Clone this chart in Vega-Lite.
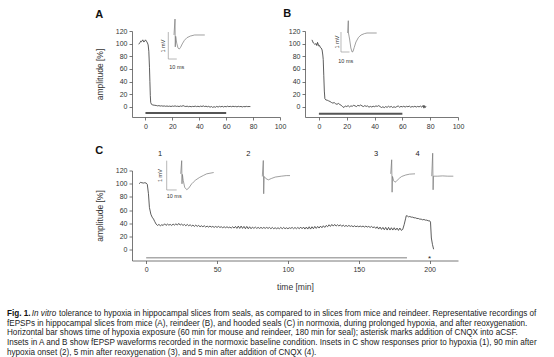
{
"$schema": "https://vega.github.io/schema/vega-lite/v6.json",
"background": "white",
"autosize": {"type": "pad"},
"padding": {"left": 7, "top": 8, "right": 4, "bottom": 1},
"config": {
  "font": "Liberation Sans",
  "view": {"stroke": null},
  "axis": {"grid": false, "labelOverlap": false, "labelSeparation": 0, "labelFlush": false, "labelBound": false, "labelFont": "Liberation Sans", "labelFontSize": 7, "labelColor": "#333", "domainColor": "#555", "tickColor": "#555", "tickSize": 3, "domainWidth": 0.8, "tickWidth": 0.8, "labelPadding": 2, "titleFont": "Liberation Sans", "titleFontSize": 8.5, "titleFontWeight": "normal", "titleColor": "#333"},
  "title": {"font": "Liberation Sans", "fontSize": 11, "fontWeight": "bold", "color": "#111", "anchor": "start", "frame": "bounds"}
},
"datasets": {
  "A": [{"t":-5,"v":99},{"t":-4,"v":102},{"t":-3.5,"v":104},{"t":-3,"v":103},{"t":-2,"v":106},{"t":-1.2,"v":102.5},{"t":-0.5,"v":104},{"t":0,"v":106},{"t":0.7,"v":104},{"t":1.5,"v":101},{"t":2,"v":98},{"t":2.5,"v":88},{"t":3,"v":62},{"t":3.3,"v":40},{"t":3.6,"v":18},{"t":3.9,"v":7},{"t":4.5,"v":4},{"t":5.5,"v":3},{"t":7,"v":2.5},{"t":8,"v":2.2},{"t":9,"v":1.6},{"t":10,"v":2.0},{"t":11,"v":1.3},{"t":12,"v":1.7},{"t":13,"v":1.1},{"t":14,"v":1.5},{"t":15,"v":0.9},{"t":16,"v":1.4},{"t":17,"v":0.8},{"t":18,"v":1.2},{"t":19,"v":0.6},{"t":20,"v":1.3},{"t":21,"v":0.9},{"t":22,"v":1.6},{"t":23,"v":0.8},{"t":24,"v":1.1},{"t":25,"v":0.5},{"t":26,"v":1.4},{"t":27,"v":0.9},{"t":28,"v":2.0},{"t":29,"v":1.0},{"t":30,"v":0.6},{"t":31,"v":1.1},{"t":32,"v":0.3},{"t":33,"v":0.9},{"t":34,"v":0.2},{"t":35,"v":0.8},{"t":36,"v":0.5},{"t":37,"v":1.2},{"t":38,"v":0.4},{"t":39,"v":1.0},{"t":40,"v":0.3},{"t":41,"v":1.2},{"t":42,"v":0.6},{"t":43,"v":1.5},{"t":44,"v":0.5},{"t":45,"v":1.1},{"t":46,"v":0.2},{"t":47,"v":0.9},{"t":48,"v":-0.5},{"t":49,"v":0.6},{"t":50,"v":-0.8},{"t":51,"v":0.3},{"t":52,"v":-0.6},{"t":53,"v":0.8},{"t":54,"v":-0.3},{"t":55,"v":0.9},{"t":56,"v":0.0},{"t":57,"v":1.0},{"t":58,"v":-0.2},{"t":59,"v":0.8},{"t":60,"v":0.1},{"t":61,"v":1.1},{"t":62,"v":0.3},{"t":63,"v":0.9},{"t":64,"v":0.2},{"t":65,"v":1.0},{"t":66,"v":0.4},{"t":67,"v":0.8},{"t":68,"v":0.0},{"t":69,"v":0.9},{"t":70,"v":0.3},{"t":71,"v":0.7},{"t":72,"v":-0.1},{"t":73,"v":0.6},{"t":74,"v":0.2},{"t":75,"v":0.8},{"t":76,"v":0.4},{"t":77,"v":0.6},{"t":78,"v":0.5}],
  "B": [{"t":-5,"v":106},{"t":-4,"v":101},{"t":-3,"v":99},{"t":-2,"v":100},{"t":-1.5,"v":97},{"t":-1,"v":102},{"t":0,"v":96},{"t":0.5,"v":97},{"t":1,"v":94},{"t":1.7,"v":93},{"t":2.3,"v":90},{"t":2.8,"v":82},{"t":3.1,"v":75},{"t":3.5,"v":50},{"t":3.9,"v":25},{"t":4.3,"v":13},{"t":5,"v":11},{"t":6,"v":10.5},{"t":7,"v":9.5},{"t":8,"v":8.5},{"t":9,"v":7},{"t":10,"v":6},{"t":11,"v":6.8},{"t":12,"v":5},{"t":13,"v":4},{"t":14,"v":5.5},{"t":15,"v":3.8},{"t":16,"v":2.5},{"t":17,"v":0.5},{"t":18,"v":-1},{"t":19,"v":1.5},{"t":20,"v":0.5},{"t":21,"v":2.0},{"t":22,"v":0},{"t":23,"v":1.5},{"t":24,"v":1.0},{"t":25,"v":2.5},{"t":26,"v":1.5},{"t":27,"v":0.5},{"t":28,"v":2.5},{"t":29,"v":1.5},{"t":30,"v":3},{"t":31,"v":1.5},{"t":32,"v":0.5},{"t":33,"v":2},{"t":34,"v":0.8},{"t":35,"v":1.5},{"t":36,"v":-0.5},{"t":37,"v":0.8},{"t":38,"v":-0.2},{"t":39,"v":1.0},{"t":40,"v":0.3},{"t":41,"v":1.5},{"t":42,"v":0.8},{"t":43,"v":2},{"t":44,"v":0.5},{"t":45,"v":-1},{"t":46,"v":0.2},{"t":47,"v":-1.2},{"t":48,"v":0.5},{"t":49,"v":-0.8},{"t":50,"v":1},{"t":51,"v":-0.5},{"t":52,"v":0.8},{"t":53,"v":-1},{"t":54,"v":0.2},{"t":55,"v":-0.8},{"t":56,"v":0.5},{"t":57,"v":1.5},{"t":58,"v":-0.5},{"t":59,"v":0.8},{"t":60,"v":0},{"t":61,"v":1},{"t":62,"v":-0.3},{"t":63,"v":0.9},{"t":64,"v":0.2},{"t":65,"v":1.2},{"t":66,"v":-0.5},{"t":67,"v":0.6},{"t":68,"v":0.0},{"t":69,"v":1.0},{"t":70,"v":-0.3},{"t":71,"v":0.8},{"t":72,"v":0.0},{"t":73,"v":1.2},{"t":74,"v":-0.5},{"t":75,"v":2.5},{"t":75.5,"v":-2},{"t":76,"v":2},{"t":76.5,"v":-1},{"t":77,"v":1}],
  "C": [{"t":-5,"v":100},{"t":-4,"v":102},{"t":-3,"v":101.5},{"t":-2,"v":101},{"t":-1,"v":101.5},{"t":0,"v":101},{"t":0.8,"v":99},{"t":1.6,"v":85},{"t":2.3,"v":64},{"t":3.3,"v":54},{"t":4.2,"v":49.5},{"t":5.2,"v":46.6},{"t":6,"v":43},{"t":7,"v":39},{"t":8,"v":37},{"t":9,"v":38.5},{"t":10,"v":36.5},{"t":11,"v":38},{"t":12,"v":37},{"t":13,"v":39.5},{"t":14,"v":37},{"t":15,"v":39},{"t":16,"v":37.5},{"t":17,"v":38.5},{"t":18,"v":37},{"t":19,"v":39},{"t":20,"v":37.5},{"t":21,"v":39.5},{"t":22,"v":37.5},{"t":23,"v":40},{"t":24,"v":37.5},{"t":25,"v":39},{"t":26,"v":37},{"t":27,"v":38.5},{"t":28,"v":36.5},{"t":29,"v":38.5},{"t":30,"v":36.5},{"t":31,"v":38},{"t":32,"v":36},{"t":33,"v":37.5},{"t":34,"v":35.5},{"t":35,"v":37.5},{"t":36,"v":35.5},{"t":37,"v":37},{"t":38,"v":35},{"t":39,"v":36.5},{"t":40,"v":35},{"t":41,"v":36.5},{"t":42,"v":34.5},{"t":43,"v":36},{"t":44,"v":34.5},{"t":45,"v":36},{"t":46,"v":34.5},{"t":47,"v":35.5},{"t":48,"v":34},{"t":49,"v":35.5},{"t":50,"v":34},{"t":51,"v":35.5},{"t":52,"v":34},{"t":53,"v":35},{"t":54,"v":33.5},{"t":55,"v":35},{"t":56,"v":33.5},{"t":57,"v":35},{"t":58,"v":33.5},{"t":59,"v":34.5},{"t":60,"v":33},{"t":61,"v":35},{"t":62,"v":33},{"t":63,"v":35.5},{"t":64,"v":32.5},{"t":65,"v":36},{"t":66,"v":32.5},{"t":67,"v":36},{"t":68,"v":32.5},{"t":69,"v":35.5},{"t":70,"v":32},{"t":71,"v":35.5},{"t":72,"v":32},{"t":73,"v":35},{"t":74,"v":32},{"t":75,"v":34.5},{"t":76,"v":32.5},{"t":77,"v":34.5},{"t":78,"v":32.5},{"t":79,"v":34},{"t":80,"v":32.5},{"t":81,"v":34},{"t":82,"v":32.5},{"t":83,"v":34},{"t":84,"v":32.5},{"t":85,"v":34},{"t":86,"v":32.5},{"t":87,"v":34},{"t":88,"v":32},{"t":89,"v":34},{"t":90,"v":32},{"t":91,"v":33.5},{"t":92,"v":32},{"t":93,"v":33.5},{"t":94,"v":32},{"t":95,"v":34},{"t":96,"v":32},{"t":97,"v":34},{"t":98,"v":32},{"t":99,"v":33.5},{"t":100,"v":32},{"t":101,"v":33.5},{"t":102,"v":32.5},{"t":103,"v":34},{"t":104,"v":32},{"t":105,"v":34},{"t":106,"v":32},{"t":107,"v":34},{"t":108,"v":32},{"t":109,"v":34.5},{"t":110,"v":32},{"t":111,"v":34.5},{"t":112,"v":31.5},{"t":113,"v":34.5},{"t":114,"v":31.5},{"t":115,"v":35},{"t":116,"v":31.5},{"t":117,"v":35},{"t":118,"v":32},{"t":119,"v":35.5},{"t":120,"v":32.5},{"t":121,"v":35.5},{"t":122,"v":33},{"t":123,"v":36},{"t":124,"v":33.5},{"t":125,"v":36.5},{"t":126,"v":34},{"t":127,"v":37},{"t":128,"v":35},{"t":129,"v":38},{"t":130,"v":35.5},{"t":131,"v":38.5},{"t":132,"v":36},{"t":133,"v":38.5},{"t":134,"v":36},{"t":135,"v":38},{"t":136,"v":36},{"t":137,"v":38},{"t":138,"v":35.5},{"t":139,"v":37.5},{"t":140,"v":35.5},{"t":141,"v":37},{"t":142,"v":35.5},{"t":143,"v":37},{"t":144,"v":35.5},{"t":145,"v":36.5},{"t":146,"v":35},{"t":147,"v":36.5},{"t":148,"v":35},{"t":149,"v":36},{"t":150,"v":35},{"t":151,"v":36},{"t":152,"v":35},{"t":153,"v":36},{"t":154,"v":34.5},{"t":155,"v":36},{"t":156,"v":34.5},{"t":157,"v":35.5},{"t":158,"v":34},{"t":159,"v":35.5},{"t":160,"v":33.5},{"t":161,"v":35},{"t":162,"v":32.5},{"t":163,"v":35},{"t":164,"v":31.5},{"t":165,"v":34.5},{"t":166,"v":31},{"t":167,"v":34},{"t":168,"v":30.5},{"t":169,"v":34},{"t":170,"v":30},{"t":171,"v":34},{"t":172,"v":30},{"t":173,"v":33.5},{"t":174,"v":30},{"t":175,"v":33.5},{"t":176,"v":30},{"t":177,"v":33},{"t":178,"v":29.5},{"t":179,"v":33},{"t":180,"v":29.5},{"t":181,"v":31},{"t":182,"v":38},{"t":183,"v":47},{"t":183.5,"v":51.7},{"t":184.5,"v":51},{"t":185,"v":50},{"t":186,"v":50.5},{"t":187,"v":49.5},{"t":188,"v":49.5},{"t":189,"v":48.5},{"t":190,"v":48.5},{"t":191,"v":47.5},{"t":192,"v":47.5},{"t":193,"v":46.5},{"t":194,"v":46.5},{"t":195,"v":45.5},{"t":196,"v":46},{"t":197,"v":45},{"t":198,"v":45},{"t":199,"v":44},{"t":200,"v":44},{"t":200.6,"v":42},{"t":201.2,"v":18},{"t":202,"v":8},{"t":202.8,"v":1}],
  "wA": [{"ms":-1.2,"mV":0},{"ms":0,"mV":0.59},{"ms":0.3,"mV":-0.44},{"ms":0.8,"mV":-0.05},{"ms":2,"mV":-0.3},{"ms":3.5,"mV":-0.48},{"ms":5,"mV":-0.52},{"ms":6.5,"mV":-0.46},{"ms":8.5,"mV":-0.33},{"ms":11,"mV":-0.2},{"ms":14,"mV":-0.1},{"ms":18,"mV":-0.04},{"ms":23,"mV":0},{"ms":35,"mV":0}],
  "wB": [{"ms":-0.8,"mV":0},{"ms":0,"mV":0.615},{"ms":0.2,"mV":0.0},{"ms":1.5,"mV":-0.3},{"ms":3,"mV":-0.75},{"ms":4.5,"mV":-0.95},{"ms":5.5,"mV":-0.93},{"ms":7,"mV":-0.72},{"ms":9,"mV":-0.45},{"ms":12,"mV":-0.22},{"ms":15,"mV":-0.1},{"ms":19,"mV":-0.03},{"ms":22,"mV":0},{"ms":33.4,"mV":0}],
  "w1": [{"ms":-1,"mV":0.04},{"ms":0,"mV":0.49},{"ms":0.3,"mV":-0.3},{"ms":0.7,"mV":0.02},{"ms":1.5,"mV":-0.18},{"ms":3,"mV":-0.42},{"ms":5,"mV":-0.5},{"ms":7,"mV":-0.45},{"ms":10,"mV":-0.3},{"ms":11.6,"mV":-0.245},{"ms":14,"mV":-0.17},{"ms":18,"mV":-0.08},{"ms":22,"mV":-0.01},{"ms":25,"mV":0.04},{"ms":32,"mV":0.085}],
  "w2": [{"ms":-1,"mV":-0.05},{"ms":0,"mV":0.495},{"ms":0.4,"mV":-0.64},{"ms":0.9,"mV":-0.05},{"ms":2.5,"mV":-0.12},{"ms":5,"mV":-0.165},{"ms":8,"mV":-0.12},{"ms":12,"mV":-0.07},{"ms":18,"mV":-0.04},{"ms":23,"mV":-0.02},{"ms":26.7,"mV":-0.02}],
  "w3": [{"ms":-1,"mV":0.04},{"ms":0,"mV":0.52},{"ms":0.4,"mV":-0.587},{"ms":0.8,"mV":-0.05},{"ms":2,"mV":-0.2},{"ms":3.3,"mV":-0.246},{"ms":5,"mV":-0.2},{"ms":8,"mV":-0.1},{"ms":10,"mV":-0.05},{"ms":14,"mV":0.0},{"ms":18,"mV":0.03},{"ms":23.3,"mV":0.04}],
  "w4": [{"ms":-1,"mV":-0.04},{"ms":0,"mV":0.744},{"ms":0.4,"mV":-0.505},{"ms":0.8,"mV":-0.04},{"ms":5,"mV":-0.04},{"ms":10,"mV":-0.03},{"ms":15,"mV":-0.04},{"ms":20.6,"mV":-0.04}],
  "sbA": [{"x1":-7.9,"x2":-7.9,"y1":0.11,"y2":-0.89},{"x1":-7.9,"x2":2.1,"y1":-0.89,"y2":-0.89}],
  "sbB": [{"x1":-8.6,"x2":-8.6,"y1":0.05,"y2":-0.95},{"x1":-8.6,"x2":1.4,"y1":-0.95,"y2":-0.95}],
  "sbC": [{"x1":-15,"x2":-15,"y1":0.49,"y2":-0.51},{"x1":-15,"x2":-5,"y1":-0.51,"y2":-0.51}],
  "caption": [
    {"line":2,"text":"fEPSPs in hippocampal slices from mice (A), reindeer (B), and hooded seals (C) in normoxia, during prolonged hypoxia, and after reoxygenation."},
    {"line":3,"text":"Horizontal bar shows time of hypoxia exposure (60 min for mouse and reindeer, 180 min for seal); asterisk marks addition of CNQX into aCSF."},
    {"line":4,"text":"Insets in A and B show fEPSP waveforms recorded in the normoxic baseline condition. Insets in C show responses prior to hypoxia (1), 90 min after"},
    {"line":5,"text":"hypoxia onset (2), 5 min after reoxygenation (3), and 5 min after addition of CNQX (4)."}
  ]
},
"spacing": 15.5,
"vconcat": [
 {
  "bounds": "flush",
  "spacing": 25,
  "hconcat": [
   {
    "title": {"text": "A", "offset": -2},
    "width": 148, "height": 86,
    "resolve": {"scale": {"x": "independent", "y": "independent"}},
    "layer": [
     {"layer": [
       {"data": {"name": "A"}, "mark": {"type": "line", "color": "#333", "strokeWidth": 0.8},
        "encoding": {
          "x": {"field": "t", "type": "quantitative", "scale": {"domain": [-10, 100], "nice": false, "zero": false}, "axis": {"tickCount": 6, "title": null, "labelOverlap": false}},
          "y": {"field": "v", "type": "quantitative", "scale": {"domain": [-16, 120], "nice": false, "zero": false}, "axis": {"tickCount": 7, "title": "amplitude [%]", "titlePadding": 11, "labelOverlap": false}}}},
       {"data": {"values": [{"start": 0, "end": 60}]}, "mark": {"type": "rule", "color": "#555", "strokeWidth": 2},
        "encoding": {"x": {"field": "start", "type": "quantitative"}, "x2": {"field": "end"}, "y": {"datum": -9.5, "type": "quantitative"}}}
     ]},
     {"layer": [
       {"data": {"name": "wA"}, "mark": {"type": "line", "color": "#777", "strokeWidth": 0.7},
        "encoding": {"x": {"field": "ms", "type": "quantitative", "scale": {"domain": [-50.6, 123.5], "nice": false, "zero": false}, "axis": null},
                     "y": {"field": "mV", "type": "quantitative", "scale": {"domain": [-3.037, 0.148], "nice": false, "zero": false}, "axis": null}}},
       {"data": {"name": "sbA"}, "mark": {"type": "rule", "color": "#999", "strokeWidth": 0.7},
        "encoding": {"x": {"field": "x1", "type": "quantitative"}, "x2": {"field": "x2"}, "y": {"field": "y1", "type": "quantitative"}, "y2": {"field": "y2"}}},
       {"data": {"values": [{"ms": -14.1, "mV": -0.41, "label": "1 mV"}]}, "mark": {"type": "text", "angle": 270, "fontSize": 5.5, "color": "#333", "baseline": "middle"},
        "encoding": {"x": {"field": "ms", "type": "quantitative"}, "y": {"field": "mV", "type": "quantitative"}, "text": {"field": "label"}}},
       {"data": {"values": [{"ms": 2, "mV": -1.19, "label": "10 ms"}]}, "mark": {"type": "text", "fontSize": 5.5, "color": "#333", "baseline": "middle"},
        "encoding": {"x": {"field": "ms", "type": "quantitative"}, "y": {"field": "mV", "type": "quantitative"}, "text": {"field": "label"}}}
     ]}
    ]
   },
   {
    "title": {"text": "B", "offset": 0, "dx": -5},
    "width": 153, "height": 86,
    "resolve": {"scale": {"x": "independent", "y": "independent"}},
    "layer": [
     {"layer": [
       {"data": {"name": "B"}, "mark": {"type": "line", "color": "#333", "strokeWidth": 0.8},
        "encoding": {
          "x": {"field": "t", "type": "quantitative", "scale": {"domain": [-10, 100], "nice": false, "zero": false}, "axis": {"tickCount": 6, "title": null, "labelOverlap": false}},
          "y": {"field": "v", "type": "quantitative", "scale": {"domain": [-16, 120], "nice": false, "zero": false}, "axis": {"tickCount": 7, "title": null, "labelOverlap": false}}}},
       {"data": {"values": [{"start": 0, "end": 60}]}, "mark": {"type": "rule", "color": "#555", "strokeWidth": 2},
        "encoding": {"x": {"field": "start", "type": "quantitative"}, "x2": {"field": "end"}, "y": {"datum": -11, "type": "quantitative"}}}
     ]},
     {"layer": [
       {"data": {"name": "wB"}, "mark": {"type": "line", "color": "#777", "strokeWidth": 0.7},
        "encoding": {"x": {"field": "ms", "type": "quantitative", "scale": {"domain": [-50.94, 129.06], "nice": false, "zero": false}, "axis": null},
                     "y": {"field": "mV", "type": "quantitative", "scale": {"domain": [-4.2, 0.1], "nice": false, "zero": false}, "axis": null}}},
       {"data": {"name": "sbB"}, "mark": {"type": "rule", "color": "#999", "strokeWidth": 0.7},
        "encoding": {"x": {"field": "x1", "type": "quantitative"}, "x2": {"field": "x2"}, "y": {"field": "y1", "type": "quantitative"}, "y2": {"field": "y2"}}},
       {"data": {"values": [{"ms": -13.6, "mV": -0.45, "label": "1 mV"}]}, "mark": {"type": "text", "angle": 270, "fontSize": 5.5, "color": "#333", "baseline": "middle"},
        "encoding": {"x": {"field": "ms", "type": "quantitative"}, "y": {"field": "mV", "type": "quantitative"}, "text": {"field": "label"}}},
       {"data": {"values": [{"ms": -3, "mV": -1.4, "label": "10 ms"}]}, "mark": {"type": "text", "fontSize": 5.5, "color": "#333", "baseline": "middle"},
        "encoding": {"x": {"field": "ms", "type": "quantitative"}, "y": {"field": "mV", "type": "quantitative"}, "text": {"field": "label"}}}
     ]}
    ]
   }
  ]
 },
 {
  "title": {"text": "C", "offset": -6},
  "width": 326, "height": 90,
  "resolve": {"scale": {"x": "independent", "y": "independent"}},
  "layer": [
   {"layer": [
     {"data": {"name": "C"}, "mark": {"type": "line", "color": "#333", "strokeWidth": 0.8},
      "encoding": {
        "x": {"field": "t", "type": "quantitative", "scale": {"domain": [-10, 220], "nice": false, "zero": false}, "axis": {"tickCount": 5, "title": "time [min]", "titlePadding": 10, "labelOverlap": false}},
        "y": {"field": "v", "type": "quantitative", "scale": {"domain": [-16, 120], "nice": false, "zero": false}, "axis": {"tickCount": 7, "title": "amplitude [%]", "titlePadding": 11, "labelOverlap": false}}}},
     {"data": {"values": [{"start": 0, "end": 184}]}, "mark": {"type": "rule", "color": "#aaa", "strokeWidth": 1.5},
      "encoding": {"x": {"field": "start", "type": "quantitative"}, "x2": {"field": "end"}, "y": {"datum": -12, "type": "quantitative"}}},
     {"data": {"values": [{"t": 200, "label": "*"}]}, "mark": {"type": "text", "fontSize": 8, "color": "#222", "baseline": "middle"},
      "encoding": {"x": {"field": "t", "type": "quantitative"}, "y": {"datum": -14, "type": "quantitative"}, "text": {"field": "label"}}}
   ]},
   {"layer": [
     {"data": {"name": "w1"}, "mark": {"type": "line", "color": "#777", "strokeWidth": 0.7},
      "encoding": {"x": {"field": "ms", "type": "quantitative", "scale": {"domain": [-49.7, 276.3], "nice": false, "zero": false}, "axis": null},
                   "y": {"field": "mV", "type": "quantitative", "scale": {"domain": [-2.918, 0.154], "nice": false, "zero": false}, "axis": null}}},
     {"data": {"name": "sbC"}, "mark": {"type": "rule", "color": "#999", "strokeWidth": 0.7},
      "encoding": {"x": {"field": "x1", "type": "quantitative"}, "x2": {"field": "x2"}, "y": {"field": "y1", "type": "quantitative"}, "y2": {"field": "y2"}}},
     {"data": {"values": [{"ms": -21.7, "mV": -0.02, "label": "1 mV"}]}, "mark": {"type": "text", "angle": 270, "fontSize": 5.5, "color": "#333", "baseline": "middle"},
      "encoding": {"x": {"field": "ms", "type": "quantitative"}, "y": {"field": "mV", "type": "quantitative"}, "text": {"field": "label"}}},
     {"data": {"values": [{"ms": -7.5, "mV": -0.7, "label": "10 ms"}]}, "mark": {"type": "text", "fontSize": 5.5, "color": "#333", "baseline": "middle"},
      "encoding": {"x": {"field": "ms", "type": "quantitative"}, "y": {"field": "mV", "type": "quantitative"}, "text": {"field": "label"}}},
     {"data": {"values": [{"ms": -21.7, "mV": 0.734, "label": "1"}]}, "mark": {"type": "text", "fontSize": 7.5, "color": "#222", "baseline": "middle"},
      "encoding": {"x": {"field": "ms", "type": "quantitative"}, "y": {"field": "mV", "type": "quantitative"}, "text": {"field": "label"}}}
   ]},
   {"layer": [
     {"data": {"name": "w2"}, "mark": {"type": "line", "color": "#777", "strokeWidth": 0.7},
      "encoding": {"x": {"field": "ms", "type": "quantitative", "scale": {"domain": [-131.3, 194.7], "nice": false, "zero": false}, "axis": null},
                   "y": {"field": "mV", "type": "quantitative", "scale": {"domain": [-2.918, 0.154], "nice": false, "zero": false}, "axis": null}}},
     {"data": {"values": [{"ms": -15, "mV": 0.734, "label": "2"}]}, "mark": {"type": "text", "fontSize": 7.5, "color": "#222", "baseline": "middle"},
      "encoding": {"x": {"field": "ms", "type": "quantitative"}, "y": {"field": "mV", "type": "quantitative"}, "text": {"field": "label"}}}
   ]},
   {"layer": [
     {"data": {"name": "w3"}, "mark": {"type": "line", "color": "#777", "strokeWidth": 0.7},
      "encoding": {"x": {"field": "ms", "type": "quantitative", "scale": {"domain": [-259.7, 66.3], "nice": false, "zero": false}, "axis": null},
                   "y": {"field": "mV", "type": "quantitative", "scale": {"domain": [-2.918, 0.154], "nice": false, "zero": false}, "axis": null}}},
     {"data": {"values": [{"ms": -15.7, "mV": 0.734, "label": "3"}]}, "mark": {"type": "text", "fontSize": 7.5, "color": "#222", "baseline": "middle"},
      "encoding": {"x": {"field": "ms", "type": "quantitative"}, "y": {"field": "mV", "type": "quantitative"}, "text": {"field": "label"}}}
   ]},
   {"layer": [
     {"data": {"name": "w4"}, "mark": {"type": "line", "color": "#777", "strokeWidth": 0.7},
      "encoding": {"x": {"field": "ms", "type": "quantitative", "scale": {"domain": [-300.7, 25.3], "nice": false, "zero": false}, "axis": null},
                   "y": {"field": "mV", "type": "quantitative", "scale": {"domain": [-2.918, 0.154], "nice": false, "zero": false}, "axis": null}}},
     {"data": {"values": [{"ms": -15, "mV": 0.734, "label": "4"}]}, "mark": {"type": "text", "fontSize": 7.5, "color": "#222", "baseline": "middle"},
      "encoding": {"x": {"field": "ms", "type": "quantitative"}, "y": {"field": "mV", "type": "quantitative"}, "text": {"field": "label"}}}
   ]}
  ]
 },
 {
  "width": 538, "height": 51,
  "layer": [
   {"data": {"name": "caption"}, "mark": {"type": "text", "align": "left", "baseline": "middle", "fontSize": 8.15, "color": "#222"},
    "encoding": {"x": {"datum": 0, "type": "quantitative", "scale": {"domain": [125, 663], "nice": false, "zero": false}, "axis": null},
                 "y": {"field": "line", "type": "quantitative", "scale": {"domain": [0.282, 5.513], "nice": false, "zero": false, "reverse": true}, "axis": null},
                 "text": {"field": "text"}}},
   {"data": {"values": [{"line": 1, "text": "\u200b\u00a0\u00a0\u00a0\u00a0\u00a0\u00a0\u00a0\u00a0\u00a0\u00a0\u00a0\u00a0\u00a0\u00a0\u00a0\u00a0\u00a0\u00a0\u00a0\u00a0\u00a0\u00a0\u00a0tolerance to hypoxia in hippocampal slices from seals, as compared to in slices from mice and reindeer. Representative recordings of"}]},
    "mark": {"type": "text", "align": "left", "baseline": "middle", "fontSize": 8.15, "color": "#222"},
    "encoding": {"x": {"datum": 0, "type": "quantitative"}, "y": {"field": "line", "type": "quantitative"}, "text": {"field": "text"}}},
   {"data": {"values": [{"line": 1, "text": "Fig. 1."}]},
    "mark": {"type": "text", "align": "left", "baseline": "middle", "fontSize": 8.15, "fontWeight": "bold", "color": "#111"},
    "encoding": {"x": {"datum": 0, "type": "quantitative"}, "y": {"field": "line", "type": "quantitative"}, "text": {"field": "text"}}},
   {"data": {"values": [{"line": 1, "text": "\u200b\u00a0\u00a0\u00a0\u00a0\u00a0\u00a0\u00a0\u00a0\u00a0\u00a0\u00a0In vitro"}]},
    "mark": {"type": "text", "align": "left", "baseline": "middle", "fontSize": 8.15, "fontStyle": "italic", "color": "#222"},
    "encoding": {"x": {"datum": 0, "type": "quantitative"}, "y": {"field": "line", "type": "quantitative"}, "text": {"field": "text"}}}
  ]
 }
]
}
